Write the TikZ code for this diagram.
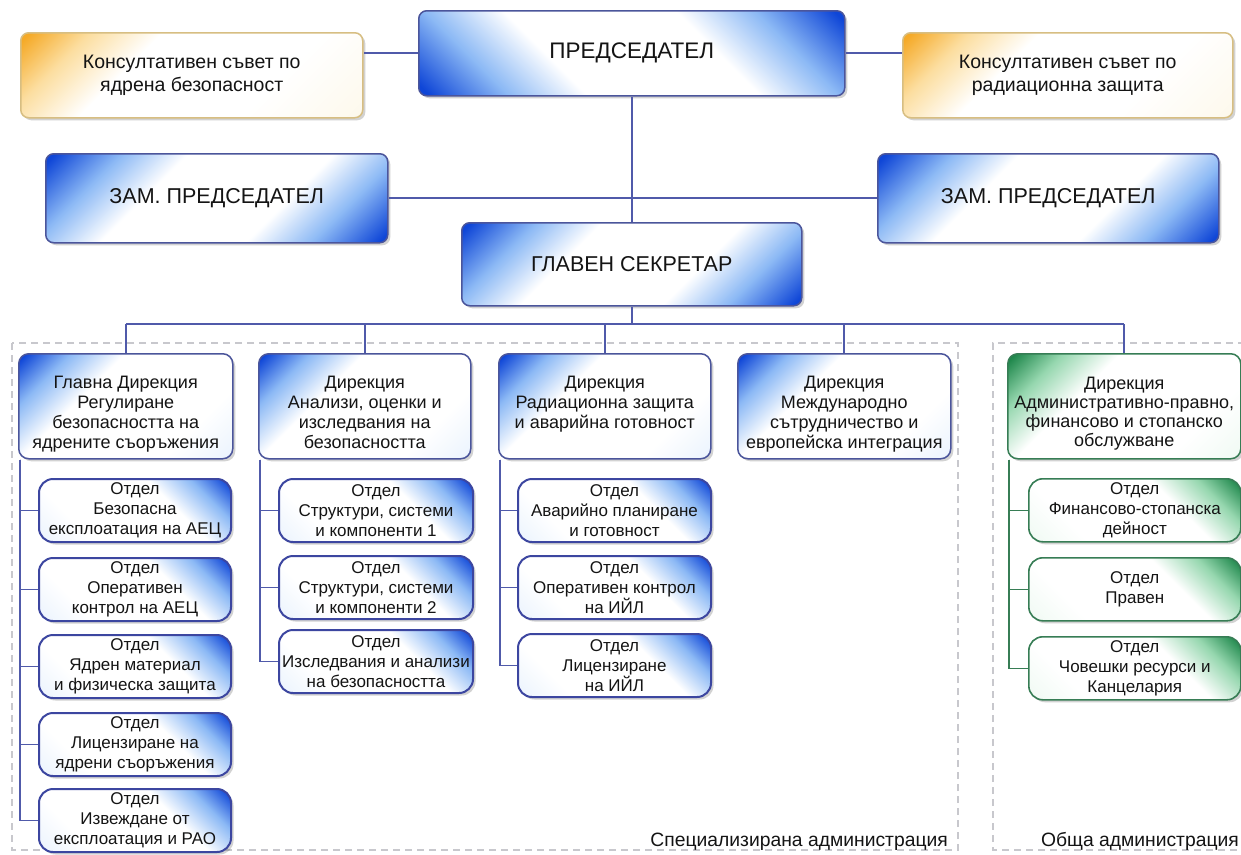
\documentclass[tikz,border=0pt]{standalone}
\usepackage{fontspec}
\setmainfont{Liberation Sans}
\usetikzlibrary{shadows,calc}
\definecolor{bdark}{RGB}{15,70,215}
\definecolor{blight}{RGB}{140,185,245}
\definecolor{bpale}{RGB}{215,232,252}
\definecolor{odark}{RGB}{245,170,40}
\definecolor{olight}{RGB}{252,222,160}
\definecolor{ocream}{RGB}{252,244,222}
\definecolor{gdark}{RGB}{30,135,75}
\definecolor{glight}{RGB}{150,215,175}
\definecolor{gpale}{RGB}{225,245,232}
\definecolor{bbord}{RGB}{75,85,155}
\definecolor{sbord}{RGB}{60,70,160}
\definecolor{obord}{RGB}{215,190,130}
\definecolor{gbord}{RGB}{55,125,85}
\definecolor{cline}{RGB}{80,90,170}
\definecolor{gline}{RGB}{55,125,85}
\definecolor{rline}{RGB}{200,200,205}
\definecolor{tcol}{RGB}{20,20,20}
\pgfdeclarehorizontalshading{twoblue}{100bp}{color(0bp)=(bdark); color(16bp)=(bdark); color(27bp)=(blight); color(38bp)=(white); color(62bp)=(white); color(73bp)=(blight); color(84bp)=(bdark); color(100bp)=(bdark)}
\pgfdeclarehorizontalshading{cornerblue}{100bp}{color(0bp)=(bdark); color(16bp)=(bdark); color(26bp)=(blight); color(38bp)=(white); color(70bp)=(white); color(100bp)=(bpale)}
\pgfdeclarehorizontalshading{cornerorange}{100bp}{color(0bp)=(odark); color(16bp)=(odark); color(26bp)=(olight); color(38bp)=(white); color(65bp)=(white); color(100bp)=(ocream)}
\pgfdeclarehorizontalshading{cornergreen}{100bp}{color(0bp)=(gdark); color(16bp)=(gdark); color(26bp)=(glight); color(38bp)=(white); color(70bp)=(white); color(100bp)=(gpale)}
\tikzset{
  conn/.style={draw=cline, line width=1.6pt},
  gconn/.style={draw=gline, line width=1.6pt},
  shad/.style={drop shadow={shadow xshift=2.5pt, shadow yshift=-2.5pt, opacity=0.25, fill=black!70}},
  topbox/.style={shad, rounded corners=8pt, draw=bbord, line width=1.5pt, shade, shading=twoblue, shading angle=-45, inner sep=0pt, anchor=north west, text=tcol, font=\fontsize{21.5}{25}\selectfont},
  presbox/.style={topbox, shading angle=45, font=\fontsize{22.5}{26}\selectfont},
  consbox/.style={shad, rounded corners=8pt, draw=obord, line width=1.5pt, shade, shading=cornerorange, shading angle=-45, align=center, inner sep=0pt, anchor=north west, text=tcol, font=\fontsize{19.5}{23}\selectfont},
  dirbox/.style={shad, rounded corners=10pt, draw=bbord, line width=1.5pt, shade, shading=cornerblue, shading angle=-45, anchor=north west, inner sep=0pt, minimum height=105pt},
  gdirbox/.style={dirbox, draw=gbord, shading=cornergreen},
  dirtext/.style={align=center, anchor=north, inner sep=0pt, text=tcol, font=\fontsize{18}{20}\selectfont},
  subbox/.style={shad, rounded corners=14pt, draw=sbord, line width=2pt, shade, shading=cornerblue, shading angle=-135, anchor=north west, inner sep=0pt, align=center, minimum height=63pt, text=tcol, font=\fontsize{17}{20}\selectfont},
  gsubbox/.style={subbox, draw=gbord, line width=1.6pt, shading=cornergreen},
  region/.style={draw=rline, line width=1.5pt, dash pattern=on 7pt off 5pt},
  lbl/.style={inner sep=0pt, text=tcol, font=\fontsize{19.3}{23}\selectfont},
}
\begin{document}
\begin{tikzpicture}[x=1pt,y=-1pt]
\useasboundingbox[fill=white] (0,0) rectangle (1241,854);
% regions
\draw[region] (12,343) rectangle (958,850);
\draw[region] (1245,343) -- (993,343) -- (993,850) -- (1245,850);
% top level
\node[presbox, minimum width=426pt, minimum height=85pt] (pres) at (418,10) {ПРЕДСЕДАТЕЛ};
\node[consbox, minimum width=342pt, minimum height=85pt] (consL) at (20,32) {Консултативен съвет по\\ядрена безопасност};
\node[consbox, minimum width=330pt, minimum height=85pt] (consR) at (902,32) {Консултативен съвет по\\радиационна защита};
\node[topbox, minimum width=342pt, minimum height=89pt] (zamL) at (45,153) {ЗАМ. ПРЕДСЕДАТЕЛ};
\node[topbox, minimum width=341pt, minimum height=89pt] (zamR) at (877,153) {ЗАМ. ПРЕДСЕДАТЕЛ};
\node[topbox, minimum width=340pt, minimum height=83pt] (sec) at (461,222) {ГЛАВЕН СЕКРЕТАР};
\coordinate (bus) at (631,324);
% top connectors
\draw[conn] (pres.west) -- (pres.west -| consL.east);
\draw[conn] (pres.east) -- (pres.east -| consR.west);
\draw[conn] (pres.south) -- (sec.north);
\draw[conn] (zamL.east) -- (zamR.west);
% directorates
\node[dirbox, minimum width=214pt] (d1) at (18,353) {};
\node[dirbox, minimum width=212pt] (d2) at (258,353) {};
\node[dirbox, minimum width=212pt] (d3) at (498,353) {};
\node[dirbox, minimum width=213pt] (d4) at (737,353) {};
\node[gdirbox, minimum width=233pt] (d5) at (1007,353) {};
\node[dirtext] (d1t) at ($(d1.north)+(0,23)$) {Главна Дирекция\\Регулиране\\безопасността на\\ядрените съоръжения};
\node[dirtext] (d2t) at ($(d2.north)+(0,23)$) {Дирекция\\Анализи, оценки и\\изследвания на\\безопасността};
\node[dirtext] (d3t) at ($(d3.north)+(0,23)$) {Дирекция\\Радиационна защита\\и аварийна готовност};
\node[dirtext] (d4t) at ($(d4.north)+(0,23)$) {Дирекция\\Международно\\сътрудничество и\\европейска интеграция};
\node[dirtext, font=\fontsize{18}{19}\selectfont] (d5t) at ($(d5.north)+(0,24)$) {Дирекция\\Административно-правно,\\финансово и стопанско\\обслужване};
% bus
\draw[conn] (sec.south) -- (sec.south |- bus);
\draw[conn] (d1.north |- bus) -- (d5.north |- bus);
\foreach \d in {d1,d2,d3,d4,d5} \draw[conn] (\d.north) -- (\d.north |- bus);
% column 1
\node[subbox, minimum width=192pt] (s11) at (38,478) {Отдел\\Безопасна\\експлоатация на АЕЦ};
\node[subbox, minimum width=192pt] (s12) at (38,557) {Отдел\\Оперативен\\контрол на АЕЦ};
\node[subbox, minimum width=192pt] (s13) at (38,634) {Отдел\\Ядрен материал\\и физическа защита};
\node[subbox, minimum width=192pt] (s14) at (38,712) {Отдел\\Лицензиране на\\ядрени съоръжения};
\node[subbox, minimum width=192pt] (s15) at (38,788) {Отдел\\Извеждане от\\експлоатация и РАО};
% column 2
\node[subbox, minimum width=194pt] (s21) at (278,478) {Отдел\\Структури, системи\\и компоненти 1};
\node[subbox, minimum width=194pt] (s22) at (278,555) {Отдел\\Структури, системи\\и компоненти 2};
\node[subbox, minimum width=194pt] (s23) at (278,629) {Отдел\\Изследвания и анализи\\на безопасността};
% column 3
\node[subbox, minimum width=193pt] (s31) at (517,478) {Отдел\\Аварийно планиране\\и готовност};
\node[subbox, minimum width=193pt] (s32) at (517,555) {Отдел\\Оперативен контрол\\на ИЙЛ};
\node[subbox, minimum width=193pt] (s33) at (517,633) {Отдел\\Лицензиране\\на ИЙЛ};
% column 5
\node[gsubbox, minimum width=212pt] (s51) at (1028,478) {Отдел\\Финансово-стопанска\\дейност};
\node[gsubbox, minimum width=212pt] (s52) at (1028,557) {Отдел\\Правен};
\node[gsubbox, minimum width=212pt] (s53) at (1028,636) {Отдел\\Човешки ресурси и\\Канцелария};
% trunks
\coordinate (t1) at ($(d1.south west)+(2,0)$);
\coordinate (t2) at ($(d2.south west)+(2,0)$);
\coordinate (t3) at ($(d3.south west)+(2,0)$);
\coordinate (t5) at ($(d5.south west)+(2,0)$);
\foreach \s in {s11,s12,s13,s14,s15} \draw[conn] (t1) |- (\s.west);
\foreach \s in {s21,s22,s23} \draw[conn] (t2) |- (\s.west);
\foreach \s in {s31,s32,s33} \draw[conn] (t3) |- (\s.west);
\foreach \s in {s51,s52,s53} \draw[gconn] (t5) |- (\s.west);
% labels
\node[lbl, anchor=base east] (spec) at (948,846) {Специализирана администрация};
\node[lbl, anchor=base east] (gen) at (1239,846) {Обща администрация};
\end{tikzpicture}
\end{document}
